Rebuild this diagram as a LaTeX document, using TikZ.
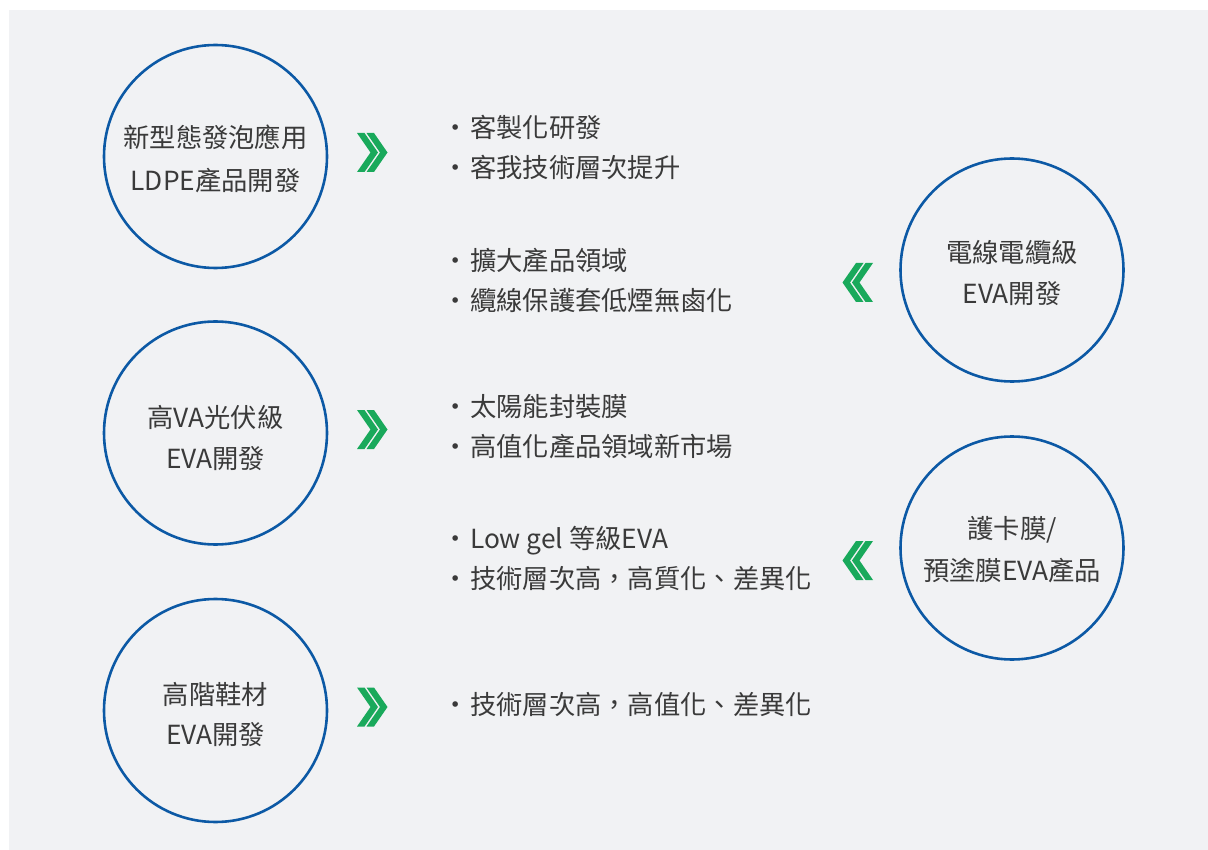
\documentclass[tikz,border=0pt]{standalone}
\usepackage{fontspec}
\setmainfont{Noto Sans CJK TC}
\usetikzlibrary{calc}
\definecolor{bg}{HTML}{F1F2F4}
\definecolor{ringc}{HTML}{0C59A5}
\definecolor{chev}{HTML}{19A95B}
\definecolor{txt}{HTML}{3A3A3A}
\begin{document}
\begin{tikzpicture}[x=1pt,y=-1pt,
  ring/.style={circle,draw=ringc,line width=2.6pt,minimum size=223pt,inner sep=0pt},
  ctext/.style={anchor=base,font=\fontsize{26.3}{30}\selectfont,text=txt,inner sep=0pt},
  btext/.style={anchor=base west,font=\fontsize{26.3}{30}\selectfont,text=txt,inner sep=0pt},
  chevron/.pic={
    \fill[chev] (0,0)--(7.5,0)--(21,19.5)--(7.5,39)--(0,39)--(13.5,19.5)--cycle;
    \fill[chev] (9.5,0)--(17,0)--(30.5,19.5)--(17,39)--(9.5,39)--(23,19.5)--cycle;
  }]
\useasboundingbox (0,0) rectangle (1208,850);
\fill[white] (0,0) rectangle (1208,850);
\fill[bg] (9,10) rectangle (1208,850);

% circles
\node[ring] (c1) at (215.5,156.5) {};
\node[ring] (c2) at (1012,270) {};
\node[ring] (c3) at (215.5,433) {};
\node[ring] (c4) at (1012,548) {};
\node[ring] (c5) at (215.5,710.5) {};

\node[ctext] (c1a) at ($(c1)+(0,-8.5)$) {新型態發泡應用};
\node[ctext] (c1b) at ($(c1)+(0,34.5)$) {LDPE產品開發};
\node[ctext] (c2a) at ($(c2)+(0,-7)$) {電線電纜級};
\node[ctext] (c2b) at ($(c2)+(0,34)$) {EVA開發};
\node[ctext] (c3a) at ($(c3)+(0,-6)$) {高VA光伏級};
\node[ctext] (c3b) at ($(c3)+(0,35)$) {EVA開發};
\node[ctext] (c4a) at ($(c4)+(0,-10)$) {護卡膜/};
\node[ctext] (c4b) at ($(c4)+(0,32)$) {預塗膜EVA產品};
\node[ctext] (c5a) at ($(c5)+(0,-6.5)$) {高階鞋材};
\node[ctext] (c5b) at ($(c5)+(0,33.5)$) {EVA開發};

% chevrons
\pic at (357,133) {chevron};
\pic[xscale=-1] at (873,263) {chevron};
\pic at (357,410) {chevron};
\pic[xscale=-1] at (873,541) {chevron};
\pic at (357,687.5) {chevron};

% bullet texts
\newcommand\bl[1]{\makebox[0pt][c]{·}\hspace{15pt}#1}
\node[btext] (t1a) at (455,138) {\bl{客製化研發}};
\node[btext] (t1b) at (455,178) {\bl{客我技術層次提升}};
\node[btext] (t2a) at (455,271) {\bl{擴大產品領域}};
\node[btext] (t2b) at (455,311) {\bl{纜線保護套低煙無鹵化}};
\node[btext] (t3a) at (455,416) {\bl{太陽能封裝膜}};
\node[btext] (t3b) at (455,456) {\bl{高值化產品領域新市場}};
\node[btext] (t4a) at (455,548) {\bl{Low gel 等級EVA}};
\node[btext] (t4b) at (455,588) {\bl{技術層次高，高質化、差異化}};
\node[btext] (t5a) at (455,714) {\bl{技術層次高，高值化、差異化}};
\end{tikzpicture}
\end{document}
